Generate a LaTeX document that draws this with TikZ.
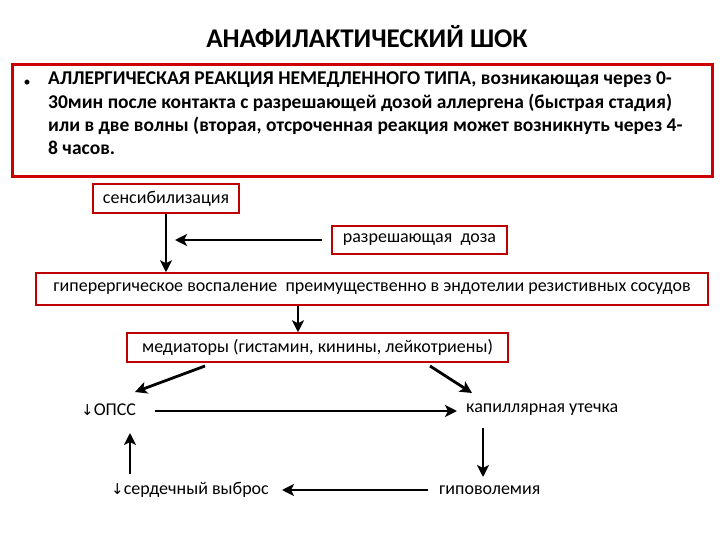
\documentclass[tikz,border=0pt]{standalone}
\usepackage{fontspec}
\setmainfont{Carlito}
\newfontfamily\dv{DejaVu Sans}
\usetikzlibrary{arrows.meta,calc}
\begin{document}
\begin{tikzpicture}[x=1pt,y=-1pt,
  rbox/.style={draw=red!75!black,line width=1.5pt,inner sep=0pt,font=\fontsize{18}{20}\selectfont},
  arr/.style={line width=2.8pt,-{Stealth[length=12pt,width=12pt,inset=3pt]}},
  lbl/.style={font=\fontsize{18}{20}\selectfont,inner sep=1pt}]
\useasboundingbox (0,0) rectangle (720,540);
\node (title) at (367,37) {\fontsize{27}{30}\selectfont\bfseries АНАФИЛАКТИЧЕСКИЙ ШОК};
\draw[red!80!black,line width=3pt] (12,65) rectangle (712,177);
\node (bul) at (27,83) {\fontsize{14}{18}\selectfont•};
\node[anchor=north west,inner sep=0pt,align=left,font=\fontsize{19.5}{23.3}\selectfont\bfseries] (txt) at (48,72)
 {АЛЛЕРГИЧЕСКАЯ РЕАКЦИЯ НЕМЕДЛЕННОГО ТИПА, возникающая через 0-\\30мин после контакта с разрешающей дозой аллергена (быстрая стадия)\\или в две волны (вторая, отсроченная реакция может возникнуть через 4-\\8 часов.};
\node[rbox,minimum width=146pt,minimum height=29pt] (sens) at (166,198.5) {сенсибилизация};
\node[rbox,minimum width=175pt,minimum height=28pt] (dose) at (419.5,240) {разрешающая\ \ доза};
\node[rbox,minimum width=672pt,minimum height=32pt] (hyper) at (372,289) {гиперергическое воспаление\ \ преимущественно в эндотелии резистивных сосудов};
\node[rbox,minimum width=381pt,minimum height=29pt] (med) at (317.5,347.5) {медиаторы (гистамин, кинины, лейкотриены)};
\node[lbl,anchor=west] (opss) at (80,410) {{\dv\fontsize{15}{18}\selectfont ↓}ОПСС};
\node[lbl,anchor=west] (cap) at (465,410) {капиллярная утечка};
\node[lbl,anchor=west] (hypo) at (438,490) {гиповолемия};
\node[lbl,anchor=west] (card) at (110,490) {{\dv\fontsize{15}{18}\selectfont ↓}сердечный выброс};
\coordinate (j) at (175,240);
\coordinate (ds) at (322,240);
\draw[arr] (sens.south) -- (hyper.north -| sens.south);
\draw[arr] (ds) -- (j);
\draw[arr] (hyper.south -| 298,0) -- (med.north -| 298,0);
\draw[arr] (205,366) -- (135,392);
\draw[arr] (430,366) -- (472,393);
\draw[arr] ($(opss.east)+(18,1)$) -- ($(cap.west)+(-8,1)$);
\draw[arr] (483,428) -- (483,477);
\draw[arr] ($(hypo.west)+(-10,0)$) -- ($(card.east)+(12,0)$);
\draw[arr] (130,474) -- (130,433);
\end{tikzpicture}
\end{document}
